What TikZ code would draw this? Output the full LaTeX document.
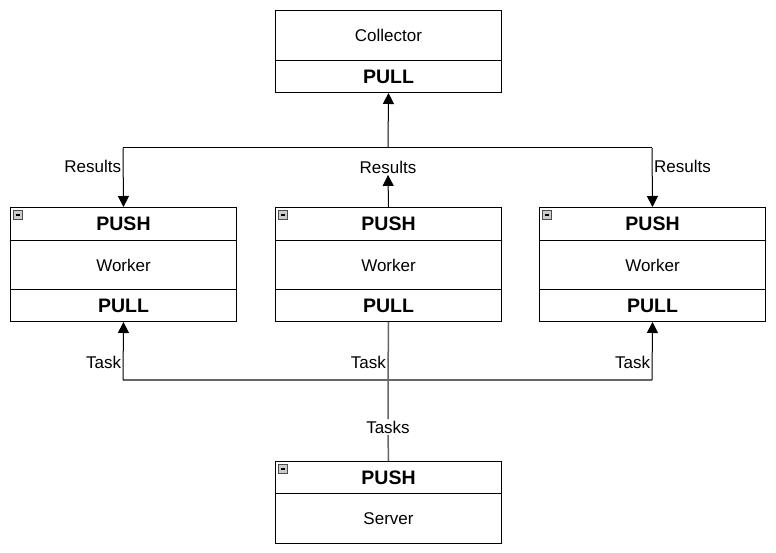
\documentclass[tikz,border=0pt]{standalone}
\usepackage{fontspec}
\setmainfont{Liberation Sans}
\usetikzlibrary{arrows.meta,positioning}
\tikzset{
  sect/.style={draw=black, line width=1pt, minimum width=226pt, inner sep=0pt, anchor=north west, font=\fontsize{17}{19}\selectfont},
  boldsect/.style={sect, font=\fontsize{19.5}{21}\selectfont\bfseries},
  arr/.style={draw=black, line width=1pt, -{Triangle[width=11pt,length=11pt]}},
  grayline/.style={draw=black!60, line width=1.5pt},
  lbl/.style={inner sep=1.5pt, font=\fontsize{17}{19}\selectfont},
  icon/.style={draw=black!70, fill=black!20, line width=0.9pt}
}
\newcommand{\minusicon}[2]{%
  \draw[icon] (#1,#2) rectangle ++(9,9);
  \draw[black, line width=1.3pt] (#1+2.5,#2+4.5) -- (#1+6.5,#2+4.5);
}
\begin{document}
\begin{tikzpicture}[x=1pt,y=-1pt]
\useasboundingbox (0,0) rectangle (776,553);
\fill[white] (0,0) rectangle (776,553);

% Collector
\node[sect, minimum height=50pt] (col) at (275,10) {Collector};
\node[boldsect, minimum height=32pt] (colPull) at (275,60) {PULL};

% Workers
\foreach \n/\x in {wL/10, wM/275, wR/539}{
  \node[boldsect, minimum height=33pt] (\n push) at (\x,207) {PUSH};
  \node[sect, minimum height=49pt] (\n) at (\x,240) {Worker};
  \node[boldsect, minimum height=32pt] (\n pull) at (\x,289) {PULL};
  \minusicon{\x+3}{210.5}
}

% Server
\node[boldsect, minimum height=32pt] (srvPush) at (275,461) {PUSH};
\node[sect, minimum height=50pt] (srv) at (275,493) {Server};
\minusicon{278}{464.5}

% Results connectors
\coordinate (hTop) at (388,148);
\coordinate (hTL) at (123,148);
\coordinate (hTR) at (652,148);
\draw[line width=1pt] (hTL) -- (hTR);
\draw[arr] (hTop) -- (colPull.south);
\draw[arr] (hTL) -- (wLpush.north) node[lbl, pos=0.32, left] {Results};
\draw[arr] (hTR) -- (wRpush.north) node[lbl, pos=0.32, right] {Results};
\node[lbl] (resM) at (388,167) {Results};
\draw[arr] (wMpush.north) -- (resM.south);

% Task connectors
\coordinate (hB) at (388,380);
\coordinate (hBL) at (123,380);
\coordinate (hBR) at (652,380);
\node[lbl] (tasks) at (388,427) {Tasks};
\draw[grayline] (hBL) -- (hBR);
\draw[grayline] (wMpull.south) -- (hB) node[lbl, pos=0.7, left] {Task} -- (tasks.north);
\draw[grayline] (tasks.south) -- (srvPush.north);
\draw[arr] (hBL) -- (wLpull.south) node[lbl, pos=0.3, left] {Task};
\draw[arr] (hBR) -- (wRpull.south) node[lbl, pos=0.3, left] {Task};
\end{tikzpicture}
\end{document}
